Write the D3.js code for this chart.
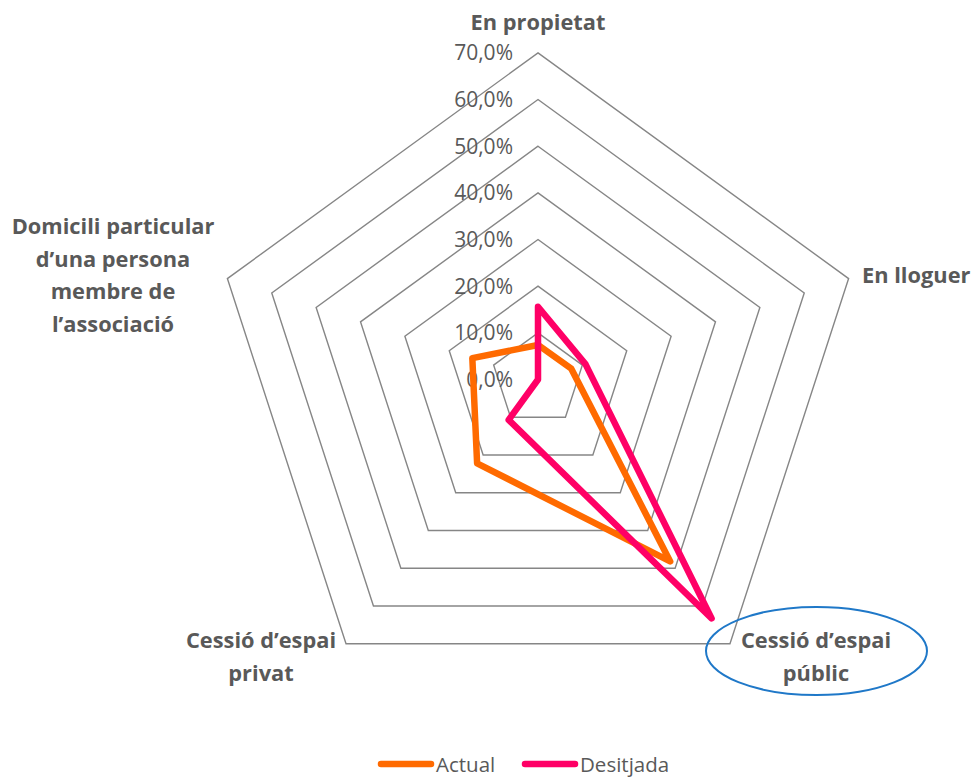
<!DOCTYPE html>
<html>
<head>
<meta charset="utf-8">
<script src="https://cdn.jsdelivr.net/npm/d3@7/dist/d3.min.js"></script>
<style>
  html, body { margin: 0; padding: 0; background: #fff; }
  svg { display: block; font-family: "Open Sans", Lato, sans-serif; }
</style>
</head>
<body>
<svg id="chart" width="978" height="781"></svg>
<script>
// Axis categories, clockwise from the top
const categories = [
  "En propietat",
  "En lloguer",
  "Cessió d’espai públic",
  "Cessió d’espai privat",
  "Domicili particular d’una persona membre de l’associació"
];
// Share of associations (%) per location type
const actual    = [7.4, 7.5, 48.2, 22.2, 14.8];
const desitjada = [15.6, 10.7, 63.3, 10.7, 0.0];
// Ring levels and their labels
const tickValues = [0, 10, 20, 30, 40, 50, 60, 70];
const tickLabels = ["0,0%", "10,0%", "20,0%", "30,0%", "40,0%", "50,0%", "60,0%", "70,0%"];
const seriesNames = ["Actual", "Desitjada"];
const seriesColors = ["#ff6a00", "#ff0066"];

// Label text split into lines, per category
const labelLines = [
  ["En propietat"],
  ["En lloguer"],
  ["Cessió d’espai", "públic"],
  ["Cessió d’espai", "privat"],
  ["Domicili particular", "d’una persona", "membre de", "l’associació"]
];

const svg = d3.select("#chart");
const cx = 538, cy = 379.5, R = 326.6;

const r = d3.scaleLinear().domain([0, 70]).range([0, R]);
const angle = d3.scalePoint().domain(d3.range(categories.length))
  .range([0, 2 * Math.PI * (categories.length - 1) / categories.length]);

const pt = (i, v) => {
  const a = angle(i);
  return [cx + r(v) * Math.sin(a), cy - r(v) * Math.cos(a)];
};

// Pentagon grid rings
const ring = d3.line().curve(d3.curveLinearClosed);
svg.append("g").selectAll("path")
  .data(tickValues.filter(t => t > 0))
  .join("path")
  .attr("d", t => ring(categories.map((c, i) => pt(i, t))))
  .attr("fill", "none")
  .attr("stroke", "#868686")
  .attr("stroke-width", 1.4);

// Ring value labels along the top axis
svg.append("g").selectAll("text")
  .data(tickValues)
  .join("text")
  .attr("x", cx - 25)
  .attr("y", t => cy - r(t) + 7.5)
  .attr("text-anchor", "end")
  .attr("font-size", 21)
  .attr("fill", "#595959")
  .text((t, i) => tickLabels[i]);

// Series polygons
const series = [actual, desitjada];
svg.append("g").selectAll("path")
  .data(series)
  .join("path")
  .attr("d", vals => ring(vals.map((v, i) => pt(i, v))))
  .attr("fill", "none")
  .attr("stroke", (d, i) => seriesColors[i])
  .attr("stroke-width", 6.5)
  .attr("stroke-linejoin", "round");

// Category labels
const labelPos = [
  { x: 538, y: 30, anchor: "middle" },
  { x: 862, y: 283, anchor: "start" },
  { x: 816, y: 648, anchor: "middle" },
  { x: 261, y: 648, anchor: "middle" },
  { x: 113, y: 234, anchor: "middle" }
];
const lineH = 32.5;
const labels = svg.append("g");
labelLines.forEach((lines, i) => {
  const p = labelPos[i];
  const t = labels.append("text")
    .attr("text-anchor", p.anchor)
    .attr("font-size", 21.8)
    .attr("font-weight", "bold")
    .attr("fill", "#595959");
  lines.forEach((ln, k) => {
    t.append("tspan").attr("x", p.x).attr("y", p.y + k * lineH).text(ln);
  });
});

// Highlight around the public-space category
svg.append("ellipse")
  .attr("cx", 816.5).attr("cy", 651)
  .attr("rx", 110.5).attr("ry", 44)
  .attr("fill", "none")
  .attr("stroke", "#1f78c8")
  .attr("stroke-width", 2);

// Legend
const legend = svg.append("g");
const legendX = [378, 522];
seriesNames.forEach((name, i) => {
  legend.append("line")
    .attr("x1", legendX[i] + 3).attr("x2", legendX[i] + 53)
    .attr("y1", 764).attr("y2", 764)
    .attr("stroke", seriesColors[i])
    .attr("stroke-width", 6.5)
    .attr("stroke-linecap", "round");
  legend.append("text")
    .attr("x", legendX[i] + 58).attr("y", 772)
    .attr("font-size", 20.5)
    .attr("fill", "#595959")
    .text(name);
});
</script>
</body>
</html>
